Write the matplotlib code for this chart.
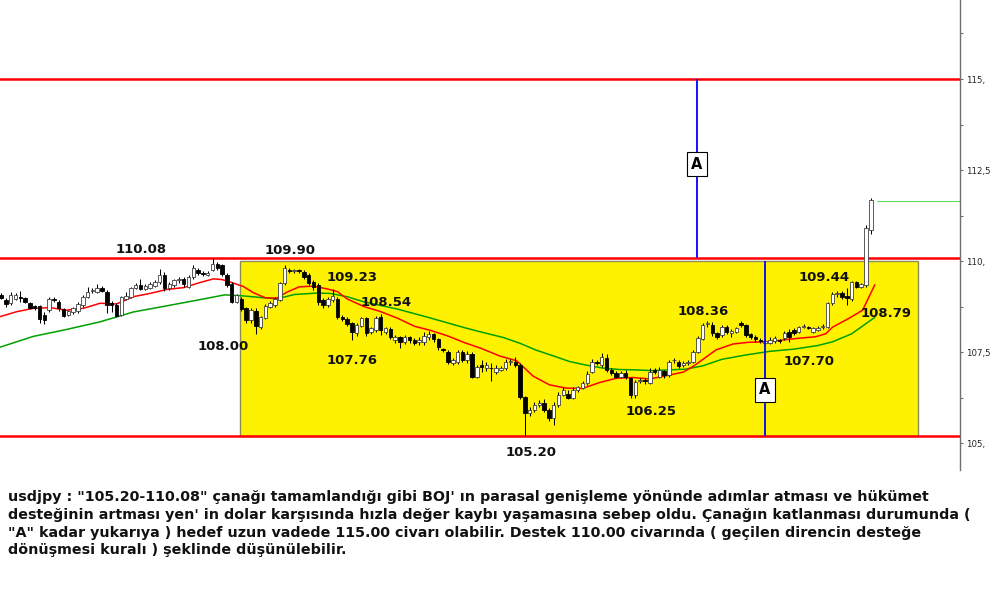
import matplotlib
matplotlib.use("Agg")
import matplotlib.pyplot as plt
from matplotlib.patches import Rectangle
import numpy as np

# ---- daily USDJPY candles (oldest first) ----
opens = [109.06, 108.93, 108.84, 108.96, 109.00, 108.99, 108.84, 108.76, 108.77, 108.53,
         108.65, 108.97, 108.88, 108.67, 108.52, 108.59, 108.62, 108.79, 109.02, 109.17,
         109.16, 109.25, 109.14, 108.85, 108.79, 108.53, 108.96, 109.02, 109.25, 109.34,
         109.23, 109.27, 109.32, 109.43, 109.63, 109.25, 109.34, 109.47, 109.50, 109.30,
         109.56, 109.75, 109.66, 109.62, 109.75, 109.93, 109.88, 109.62, 109.38, 108.88,
         108.97, 108.70, 108.38, 108.63, 108.20, 108.43, 108.75, 108.80, 108.93, 109.39,
         109.74, 109.72, 109.73, 109.71, 109.62, 109.43, 109.34, 108.93, 108.79, 108.93,
         108.95, 108.47, 108.40, 108.29, 108.01, 108.22, 108.43, 108.04, 108.10, 108.45,
         108.06, 108.12, 107.83, 107.90, 107.78, 107.90, 107.83, 107.78, 107.78, 107.90,
         107.99, 107.85, 107.56, 107.51, 107.20, 107.23, 107.51, 107.28, 107.46, 106.82,
         107.14, 107.05, 107.06, 106.96, 107.02, 107.05, 107.23, 107.24, 107.14, 106.27,
         105.82, 105.91, 106.04, 106.09, 105.91, 105.68, 106.05, 106.32, 106.34, 106.25,
         106.46, 106.52, 106.64, 106.96, 107.24, 107.14, 107.35, 107.01, 106.93, 106.82,
         106.93, 106.78, 106.32, 106.70, 106.74, 106.66, 107.00, 106.82, 106.98, 106.87,
         107.27, 107.23, 107.14, 107.19, 107.23, 107.51, 107.85, 108.27, 108.24, 108.01,
         107.97, 108.20, 108.01, 108.06, 108.30, 108.24, 107.99, 107.92, 107.82, 107.76,
         107.76, 107.80, 107.81, 107.88, 108.06, 108.10, 108.06, 108.20, 108.17, 108.06,
         108.11, 108.19, 108.20, 108.84, 109.10, 109.12, 109.04, 108.97, 109.43, 109.30,
         109.34, 110.85]
highs = [109.12, 108.98, 109.14, 109.12, 109.18, 109.02, 108.88, 108.80, 108.80, 108.60,
         109.00, 109.00, 108.92, 108.72, 108.66, 108.74, 108.88, 109.08, 109.30, 109.25,
         109.36, 109.32, 109.20, 108.90, 108.85, 109.05, 109.16, 109.30, 109.40, 109.51,
         109.37, 109.42, 109.48, 109.78, 109.70, 109.42, 109.52, 109.55, 109.56, 109.62,
         109.89, 109.80, 109.72, 109.72, 110.08, 109.98, 109.92, 109.68, 109.42, 109.10,
         109.02, 108.75, 108.72, 108.70, 108.50, 108.83, 108.90, 109.00, 109.42, 109.90,
         109.82, 109.78, 109.78, 109.76, 109.68, 109.48, 109.40, 108.98, 109.00, 109.23,
         109.00, 108.52, 108.45, 108.33, 108.30, 108.47, 108.47, 108.20, 108.50, 108.54,
         108.20, 108.18, 107.97, 107.95, 107.98, 107.95, 107.88, 107.92, 108.05, 108.08,
         108.03, 107.88, 107.60, 107.55, 107.33, 107.55, 107.55, 107.52, 107.50, 107.15,
         107.28, 107.22, 107.20, 107.15, 107.12, 107.30, 107.32, 107.37, 107.20, 106.30,
         106.00, 106.12, 106.18, 106.20, 105.95, 106.12, 106.40, 106.55, 106.45, 106.55,
         106.58, 106.70, 106.97, 107.30, 107.28, 107.47, 107.45, 107.05, 106.98, 106.97,
         107.00, 106.82, 106.73, 106.80, 106.78, 107.05, 107.05, 107.08, 107.02, 107.28,
         107.35, 107.28, 107.25, 107.28, 107.55, 107.93, 108.30, 108.36, 108.32, 108.06,
         108.25, 108.25, 108.12, 108.18, 108.36, 108.28, 108.03, 107.97, 107.88, 107.85,
         107.90, 107.95, 107.86, 108.08, 108.12, 108.15, 108.22, 108.26, 108.22, 108.20,
         108.21, 108.27, 108.88, 109.14, 109.18, 109.18, 109.25, 109.44, 109.44, 109.40,
         111.00, 111.72]
lows = [108.95, 108.75, 108.79, 108.93, 108.88, 108.85, 108.68, 108.66, 108.29, 108.28,
        108.60, 108.88, 108.63, 108.45, 108.48, 108.55, 108.58, 108.74, 108.98, 109.12,
        109.12, 109.15, 108.56, 108.60, 108.45, 108.50, 108.92, 108.98, 109.22, 109.20,
        109.20, 109.24, 109.28, 109.38, 109.17, 109.20, 109.30, 109.40, 109.30, 109.26,
        109.52, 109.62, 109.60, 109.58, 109.72, 109.75, 109.60, 109.28, 108.85, 108.85,
        108.62, 108.30, 108.30, 108.00, 108.12, 108.40, 108.70, 108.75, 108.90, 109.35,
        109.68, 109.68, 109.66, 109.52, 109.33, 109.20, 108.80, 108.72, 108.75, 108.88,
        108.40, 108.35, 108.22, 107.83, 107.95, 108.18, 107.95, 108.00, 108.05, 107.98,
        108.00, 107.85, 107.76, 107.62, 107.72, 107.76, 107.70, 107.68, 107.70, 107.82,
        107.78, 107.55, 107.50, 107.18, 107.15, 107.18, 107.22, 107.20, 106.78, 106.78,
        106.95, 106.98, 106.70, 106.90, 106.98, 107.00, 107.15, 107.10, 106.20, 105.20,
        105.75, 105.85, 105.98, 105.85, 105.60, 105.50, 106.00, 106.28, 106.20, 106.20,
        106.40, 106.48, 106.60, 106.92, 107.14, 107.10, 106.95, 106.88, 106.78, 106.78,
        106.75, 106.25, 106.25, 106.65, 106.62, 106.62, 106.90, 106.78, 106.80, 106.82,
        107.20, 107.05, 107.10, 107.15, 107.20, 107.47, 107.82, 108.20, 107.95, 107.85,
        107.92, 108.00, 107.92, 108.02, 108.20, 107.92, 107.86, 107.78, 107.74, 107.70,
        107.72, 107.75, 107.76, 107.84, 107.78, 107.98, 108.02, 108.15, 108.12, 108.02,
        108.08, 108.13, 108.15, 108.80, 109.00, 108.96, 108.79, 108.90, 109.26, 109.25,
        109.30, 110.75]
closes = [108.98, 108.82, 109.08, 109.08, 108.99, 108.88, 108.72, 108.70, 108.42, 108.38,
          108.96, 108.93, 108.70, 108.50, 108.62, 108.70, 108.83, 109.02, 109.14, 109.19,
          109.25, 109.19, 108.79, 108.79, 108.50, 109.02, 109.05, 109.25, 109.34, 109.23,
          109.32, 109.36, 109.43, 109.63, 109.25, 109.36, 109.48, 109.48, 109.36, 109.57,
          109.80, 109.66, 109.65, 109.68, 109.93, 109.80, 109.65, 109.35, 108.88, 109.07,
          108.68, 108.38, 108.66, 108.21, 108.45, 108.77, 108.85, 108.95, 109.39, 109.80,
          109.73, 109.73, 109.72, 109.57, 109.39, 109.29, 108.88, 108.79, 108.97, 109.05,
          108.45, 108.40, 108.27, 108.06, 108.24, 108.43, 108.01, 108.15, 108.43, 108.10,
          108.15, 107.90, 107.92, 107.78, 107.92, 107.83, 107.76, 107.83, 107.94, 107.99,
          107.85, 107.63, 107.55, 107.23, 107.28, 107.51, 107.28, 107.46, 106.82, 107.10,
          107.10, 107.14, 107.05, 107.05, 107.05, 107.23, 107.24, 107.15, 106.27, 105.82,
          105.91, 106.05, 106.10, 105.91, 105.68, 106.05, 106.32, 106.46, 106.25, 106.46,
          106.53, 106.64, 106.91, 107.24, 107.19, 107.37, 107.01, 106.93, 106.82, 106.93,
          106.82, 106.32, 106.68, 106.74, 106.70, 106.96, 106.96, 107.01, 106.86, 107.24,
          107.28, 107.11, 107.20, 107.23, 107.51, 107.88, 108.24, 108.29, 108.01, 107.92,
          108.20, 108.06, 108.08, 108.15, 108.24, 107.97, 107.92, 107.85, 107.81, 107.80,
          107.83, 107.88, 107.80, 108.03, 107.92, 108.03, 108.18, 108.21, 108.16, 108.15,
          108.16, 108.20, 108.84, 109.10, 109.11, 109.02, 108.98, 109.43, 109.30, 109.36,
          110.90, 111.68]

# ---- moving averages (bar index, price) ----
ma_fast_x = [-0.3, 3.3, 6.7, 10.2, 13.6, 17.1, 20.6, 24.0, 27.5, 31.0, 34.5, 38.0, 41.4,
             44.2, 46.0, 48.0, 50.4, 52.5, 55.0, 57.4, 59.4, 62.0, 65.0, 68.0, 70.0, 72.0,
             75.5, 79.0, 82.5, 86.0, 89.5, 93.0, 96.4, 99.9, 103.8, 107.3, 110.7, 114.1,
             117.6, 121.0, 124.5, 128.0, 131.5, 135.0, 138.4, 142.0, 144.3, 146.7, 148.8,
             152.3, 155.7, 159.2, 162.6, 166.1, 169.5, 171.6, 173.0, 176.5, 179.3, 181.8]
ma_fast = [108.47, 108.61, 108.70, 108.72, 108.65, 108.70, 108.84, 108.82, 109.02, 109.11,
           109.22, 109.27, 109.41, 109.51, 109.49, 109.41, 109.30, 109.13, 108.99, 108.98,
           109.14, 109.29, 109.31, 109.23, 109.16, 108.96, 108.75, 108.61, 108.43, 108.21,
           108.09, 107.94, 107.76, 107.60, 107.39, 107.26, 106.84, 106.60, 106.51, 106.50,
           106.66, 106.78, 106.80, 106.76, 106.85, 106.95, 107.13, 107.36, 107.56, 107.72,
           107.77, 107.78, 107.83, 107.88, 107.92, 108.00, 108.18, 108.43, 108.65, 109.34]
ma_slow_x = [-0.3, 6.7, 13.6, 20.6, 27.5, 34.5, 41.4, 46.5, 49.7, 53.9, 57.4, 61.0, 65.7,
             68.5, 72.0, 75.5, 82.5, 89.5, 96.4, 99.9, 104.5, 108.0, 111.4, 114.8, 118.3,
             121.8, 125.2, 128.7, 132.1, 135.6, 139.0, 142.5, 146.0, 150.0, 155.0, 160.0,
             165.0, 170.0, 173.0, 177.0, 181.8]
ma_slow = [107.63, 107.93, 108.12, 108.33, 108.60, 108.77, 108.94, 109.07, 109.05, 109.00,
           108.96, 109.08, 109.12, 109.11, 109.02, 108.88, 108.68, 108.43, 108.17, 108.05,
           107.90, 107.74, 107.55, 107.40, 107.24, 107.14, 107.06, 107.02, 107.01, 106.99,
           107.01, 107.03, 107.12, 107.30, 107.42, 107.52, 107.58, 107.68, 107.78, 108.00,
           108.45]

# ---- analysis levels ----
target_level = 115.00
resistance = 110.08
support = 105.20
bowl_top = 110.00
last_price = 111.66

price_ticks = [105.0, 107.5, 110.0, 112.5, 115.0]
price_tick_labels = ["105,", "107,5", "110,", "112,5", "115,"]
minor_ticks = [106.25, 108.75, 111.25, 113.75, 116.25]

swing_labels = ["110.08", "109.90", "109.23", "108.54", "108.00", "107.76",
                "105.20", "106.25", "108.36", "107.70", "109.44", "108.79"]

comment_lines = [
    "usdjpy : \"105.20-110.08\" çanağı tamamlandığı gibi BOJ' ın parasal genişleme yönünde adımlar atması ve hükümet",
    "desteğinin artması yen' in dolar karşısında hızla değer kaybı yaşamasına sebep oldu. Çanağın katlanması durumunda (",
    "\"A\" kadar yukarıya ) hedef uzun vadede 115.00 civarı olabilir. Destek 110.00 civarında ( geçilen direncin desteğe",
    "dönüşmesi kuralı ) şeklinde düşünülebilir.",
]

# ---- figure ----
fig = plt.figure(figsize=(10.0, 6.09), dpi=100)
fig.patch.set_facecolor("white")
ax = fig.add_axes([0.0, 1 - 470 / 609, 0.96, 470 / 609])
ax.set_facecolor("white")

x_left, x_right = -0.23, 199.56
ax.set_xlim(x_left, x_right)
ax.set_ylim(104.26, 117.17)

# bowl area
bowl_x0, bowl_x1 = 49.7, 190.8
ax.add_patch(Rectangle((bowl_x0, support), bowl_x1 - bowl_x0, bowl_top - support,
                       facecolor="#fff200", edgecolor="#8c8c5a", linewidth=1.0, zorder=1))

# horizontal levels
for lvl in (target_level, resistance, support):
    ax.axhline(lvl, color="#ff0000", linewidth=1.8, zorder=2)

# moving averages
ax.plot(ma_slow_x, ma_slow, color="#00a000", linewidth=1.1, zorder=3)
ax.plot(ma_fast_x, ma_fast, color="#ff0000", linewidth=1.1, zorder=3)

# candles
o = np.array(opens)
h = np.array(highs)
l = np.array(lows)
c = np.array(closes)
idx = np.arange(len(o))
ax.vlines(idx, l, h, color="black", linewidth=0.75, zorder=4)
up = c >= o
body_low = np.minimum(o, c)
body_h = np.maximum(np.abs(c - o), 0.025)
ax.bar(idx[up], body_h[up], bottom=body_low[up], width=0.72, color="white",
       edgecolor="#404040", linewidth=0.6, zorder=5)
ax.bar(idx[~up], body_h[~up], bottom=body_low[~up], width=0.72, color="black",
       edgecolor="black", linewidth=0.6, zorder=5)

# last price line
ax.hlines(last_price, len(o) + 0.3, x_right, color="#5fdc5f", linewidth=0.8, zorder=2)

# measured move markers
a1_x, a2_x = 144.8, 159.0
ax.vlines(a1_x, resistance, target_level, color="#0000ff", linewidth=1.3, zorder=6)
ax.vlines(a2_x, support, bowl_top, color="#0000ff", linewidth=1.3, zorder=6)
box_style = dict(boxstyle="square,pad=0.32", facecolor="white", edgecolor="black", linewidth=0.8)
ax.text(a1_x, 112.66, "A", ha="center", va="center", fontsize=10.5, fontweight="bold",
        bbox=box_style, zorder=7)
ax.text(a2_x, 106.46, "A", ha="center", va="center", fontsize=10.5, fontweight="bold",
        bbox=box_style, zorder=7)

# swing point annotations
label_xy = [(29.1, 110.33), (60.1, 110.30), (73.0, 109.56), (80.1, 108.87),
            (46.2, 107.64), (73.0, 107.28), (110.3, 104.73), (135.3, 105.88),
            (146.1, 108.60), (168.1, 107.23), (171.3, 109.56), (184.2, 108.57)]
for s, (lx, ly) in zip(swing_labels, label_xy):
    ax.text(lx, ly, s, ha="center", va="center", fontsize=9.5, fontweight="bold",
            color="#111111", zorder=8)

# price axis on the right
for side in ("top", "left", "bottom"):
    ax.spines[side].set_visible(False)
ax.spines["right"].set_color("#6e6e6e")
ax.spines["right"].set_linewidth(1.0)
ax.set_xticks([])
ax.yaxis.tick_right()
ax.set_yticks(price_ticks)
ax.set_yticklabels(price_tick_labels)
ax.set_yticks(minor_ticks, minor=True)
ax.tick_params(axis="y", which="major", length=2.5, width=0.8, color="#6e6e6e",
               labelsize=6.2, labelcolor="#222222", pad=1.5)
ax.tick_params(axis="y", which="minor", length=1.8, width=0.8, color="#6e6e6e")

# commentary
line_y = [497, 515, 533, 550]
for txt, yy in zip(comment_lines, line_y):
    fig.text(8 / 1000, 1 - yy / 609, txt, ha="left", va="center", fontsize=10.25,
             fontweight="bold", color="#111111")

fig.savefig("out.png", dpi=100, facecolor="white")
